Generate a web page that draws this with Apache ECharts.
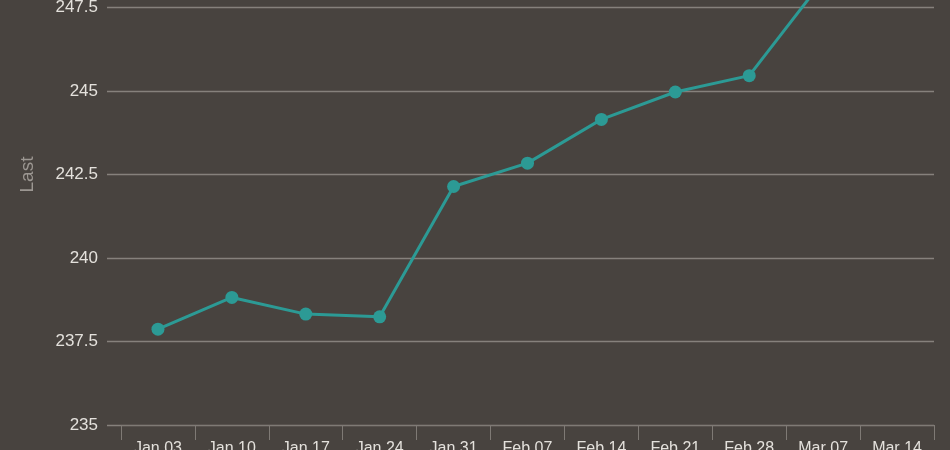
<!DOCTYPE html>
<html>
<head>
<meta charset="utf-8">
<script src="https://cdn.jsdelivr.net/npm/echarts@6/dist/echarts.min.js"></script>
<style>
html,body{margin:0;padding:0;background:#48433f;}
#chart{width:950px;height:450px;}
</style>
</head>
<body>
<div id="chart"></div>
<script>
const categories = ['Jan 03','Jan 10','Jan 17','Jan 24','Jan 31','Feb 07','Feb 14','Feb 21','Feb 28','Mar 07','Mar 14'];
const lastValues = [237.87, 238.82, 238.32, 238.24, 242.14, 242.84, 244.15, 244.97, 245.46, 248.32, null];
const yMin = 235, yMax = 250, yStep = 2.5;
const yAxisName = 'Last';

const chart = echarts.init(document.getElementById('chart'), null, {renderer:'canvas'});
const font = 'Liberation Sans, Arial, sans-serif';
chart.setOption({
  backgroundColor: '#48433f',
  animation: false,
  grid: [
    {left: 107, right: 16, top: -76, bottom: 25, outerBoundsMode: 'none', containLabel: false},
    {left: 121, right: 16, top: -76, bottom: 25, outerBoundsMode: 'none', containLabel: false}
  ],
  xAxis: [
    {type: 'category', gridIndex: 0, data: categories, show: false},
    {type: 'category', gridIndex: 1, data: categories, boundaryGap: true,
     axisLine: {show: true, lineStyle: {color: '#7f7a75', width: 1}},
     axisTick: {show: true, length: 15, lineStyle: {color: '#7f7a75'}},
     axisLabel: {color: '#e4e1dc', fontSize: 16, fontFamily: font, margin: 16, hideOverlap: false},
     splitLine: {show: false}}
  ],
  yAxis: [
    {type: 'value', gridIndex: 0, min: yMin, max: yMax, interval: yStep,
     name: yAxisName, nameLocation: 'middle', nameGap: 70, nameRotate: 90,
     nameTextStyle: {color: '#9c9792', fontSize: 19, fontFamily: font},
     axisLine: {show: false}, axisTick: {show: false},
     axisLabel: {color: '#e4e1dc', fontSize: 17, fontFamily: font, margin: 9},
     splitLine: {show: true, lineStyle: {color: '#86817c', width: 1.3}}},
    {type: 'value', gridIndex: 1, min: yMin, max: yMax, interval: yStep, show: false,
     splitLine: {show: false}}
  ],
  series: [{
    type: 'line', xAxisIndex: 1, yAxisIndex: 1, data: lastValues,
    symbol: 'circle', symbolSize: 13, connectNulls: false,
    lineStyle: {color: '#2c9a95', width: 3},
    itemStyle: {color: '#2c9a95'}
  }]
});
</script>
</body>
</html>
